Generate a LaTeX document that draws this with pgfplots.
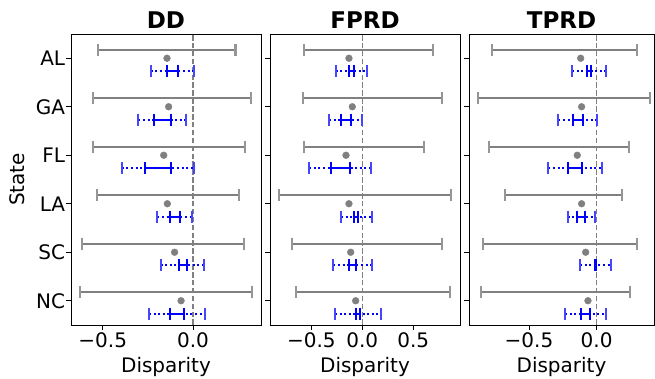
\documentclass[border=0pt]{standalone}
\usepackage{fontspec}
\setmainfont{DejaVu Sans}
\usepackage{pgfplots}
\usepackage{pgfplotstable}
\pgfplotsset{compat=1.18}

% y: row (NC=0 ... AL=5); dot: point estimate; glo/ghi: gray interval;
% blo/bhi: blue outer (dotted) interval; ilo/ihi: blue inner (solid) interval
\pgfplotstableread{
y dot glo ghi blo bhi ilo ihi
5 -0.144 -0.526 0.236 -0.234 0.006 -0.144 -0.083
4 -0.135 -0.556 0.323 -0.303 -0.037 -0.218 -0.120
3 -0.162 -0.556 0.288 -0.395 0.006 -0.266 -0.120
2 -0.142 -0.532 0.255 -0.197 -0.004 -0.126 -0.074
1 -0.102 -0.616 0.281 -0.179 0.061 -0.079 -0.035
0 -0.066 -0.624 0.327 -0.244 0.065 -0.126 -0.052
}\dd
\pgfplotstableread{
y dot glo ghi blo bhi ilo ihi
5 -0.131 -0.572 0.696 -0.261 0.049 -0.131 -0.078
4 -0.098 -0.585 0.784 -0.327 0.000 -0.209 -0.111
3 -0.160 -0.569 0.608 -0.520 0.085 -0.307 -0.121
2 -0.131 -0.814 0.866 -0.206 0.092 -0.078 -0.046
1 -0.114 -0.693 0.778 -0.284 0.098 -0.127 -0.065
0 -0.065 -0.650 0.863 -0.268 0.183 -0.065 -0.023
}\fprd
\pgfplotstableread{
y dot glo ghi blo bhi ilo ihi
5 -0.118 -0.776 0.296 -0.180 0.066 -0.071 -0.042
4 -0.111 -0.874 0.394 -0.283 0.005 -0.177 -0.103
3 -0.143 -0.793 0.239 -0.357 0.037 -0.209 -0.106
2 -0.111 -0.677 0.190 -0.214 -0.012 -0.143 -0.086
1 -0.081 -0.837 0.296 -0.123 0.106 -0.010 -0.004
0 -0.064 -0.855 0.246 -0.234 0.066 -0.113 -0.049
}\tprd

\definecolor{mgray}{RGB}{128,128,128}
\definecolor{lgray}{RGB}{150,150,150}
\definecolor{mblue}{RGB}{0,0,255}
\definecolor{lblue}{RGB}{70,70,255}

\pgfplotsset{
  panel/.style={
    scale only axis, height=291pt,
    anchor=south west,
    ymin=-0.5, ymax=5.5, ytick={0,1,2,3,4,5},
    tick align=outside, major tick length=4.9pt,
    xtick pos=bottom, ytick pos=left,
    every tick/.style={black, line width=0.8pt},
    axis line style={line width=0.9pt},
    tick label style={font=\fontsize{20}{22}\selectfont},
    xticklabel style={anchor=base, yshift=-18pt, inner sep=0pt},
    yticklabel style={anchor=east, xshift=-0.8pt, inner sep=0pt},
    title style={font=\bfseries\fontsize{23}{25}\selectfont, at={(axis description cs:0.5,1)}, anchor=base, yshift=0pt, inner sep=0pt},
    xlabel={Disparity},
    every axis x label/.style={at={(axis description cs:0.5,0)}, anchor=base, yshift=-48pt, inner sep=0pt, font=\fontsize{20}{22}\selectfont},
    clip=false,
  },
  graybar/.style={draw=mgray, line width=2.3pt, solid, mark=|, mark size=6pt, mark options={draw=lgray, fill=lgray, line width=2.2pt, solid}},
  outerbar/.style={draw=mblue, line width=2pt, dash pattern=on 2pt off 2.6pt, mark=|, mark size=6pt, mark options={draw=lblue, fill=lblue, line width=2pt, solid}},
  innerbar/.style={draw=mblue, line width=2.2pt, solid, mark=|, mark size=6pt, mark options={draw=mblue, fill=mblue, line width=2pt, solid}},
}

\newcommand{\panelcontent}[1]{%
  \addplot[draw=mgray, line width=1.6pt, dash pattern=on 5.5pt off 2.4pt] coordinates {(0,-0.5) (0,5.5)};
  \pgfplotsinvokeforeach{0,...,5}{%
    \pgfplotstablegetelem{##1}{y}\of{#1}\pgfmathsetmacro\yg{\pgfplotsretval+0.175}%
    \pgfplotstablegetelem{##1}{y}\of{#1}\pgfmathsetmacro\yb{\pgfplotsretval-0.265}%
    \pgfplotstablegetelem{##1}{glo}\of{#1}\let\glo\pgfplotsretval
    \pgfplotstablegetelem{##1}{ghi}\of{#1}\let\ghi\pgfplotsretval
    \pgfplotstablegetelem{##1}{blo}\of{#1}\let\blo\pgfplotsretval
    \pgfplotstablegetelem{##1}{bhi}\of{#1}\let\bhi\pgfplotsretval
    \pgfplotstablegetelem{##1}{ilo}\of{#1}\let\ilo\pgfplotsretval
    \pgfplotstablegetelem{##1}{ihi}\of{#1}\let\ihi\pgfplotsretval
    \addplot[graybar] coordinates {(\glo,\yg) (\ghi,\yg)};
    \addplot[outerbar] coordinates {(\blo,\yb) (\bhi,\yb)};
    \addplot[innerbar] coordinates {(\ilo,\yb) (\ihi,\yb)};
  }
  \addplot[only marks, mark=*, mark size=3.4pt, mark options={draw=mgray, fill=mgray}] table[x=dot, y=y] {#1};
}

\begin{document}
\begin{tikzpicture}
\useasboundingbox (0pt,0pt) rectangle (655pt,379pt);

\begin{axis}[panel, at={(71pt,54pt)}, width=190pt,
  xmin=-0.676, xmax=0.377,
  xtick={-0.5,0}, xticklabels={−0.5,0.0},
  yticklabels={NC,SC,LA,FL,GA,AL},
  title={DD},
  ylabel={State},
  every axis y label/.style={at={([xshift=-46pt]axis description cs:0,0.5)}, rotate=90, anchor=base, inner sep=0pt, font=\fontsize{20}{22}\selectfont},
]
\panelcontent{\dd}
\end{axis}

\begin{axis}[panel, at={(270pt,54pt)}, width=190pt,
  xmin=-0.905, xmax=0.958,
  xtick={-0.5,0,0.5}, xticklabels={−0.5,0.0,0.5},
  yticklabels={,,,,,},
  title={FPRD},
]
\panelcontent{\fprd}
\end{axis}

\begin{axis}[panel, at={(469pt,54pt)}, width=185pt,
  xmin=-0.943, xmax=0.424,
  xtick={-0.5,0}, xticklabels={−0.5,0.0},
  yticklabels={,,,,,},
  title={TPRD},
]
\panelcontent{\tprd}
\end{axis}
\end{tikzpicture}
\end{document}
